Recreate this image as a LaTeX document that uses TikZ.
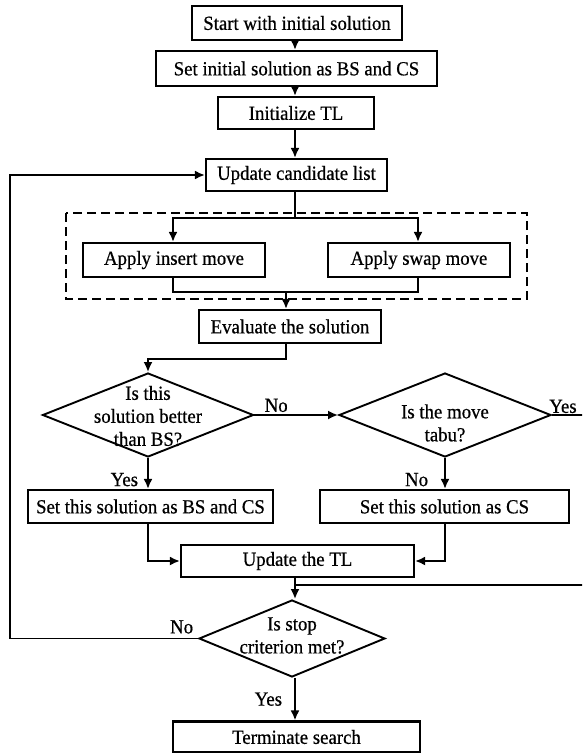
\documentclass[tikz,border=0pt]{standalone}
\usepackage{fontspec}
\setmainfont{Liberation Serif}[FakeStretch=0.94, FakeBold=0.6]
\usepackage{tikz}
\usetikzlibrary{arrows}
\usetikzlibrary{arrows.meta}
\usetikzlibrary{calc}
\usetikzlibrary{positioning}
\usetikzlibrary{shapes.geometric}

\begin{document}
\begin{tikzpicture}[x=1pt, y=-1pt,
    font=\fontsize{20}{23}\selectfont,
    box/.style={draw, line width=2.2pt, minimum height=33pt, inner sep=0pt},
    decision/.style={draw, diamond, line width=1.9pt, inner sep=0pt},
    line/.style={line width=1.9pt},
    flow/.style={line, -{Latex[length=10pt, width=9pt]}}]

    \useasboundingbox (0,0) rectangle (582,753);
    \clip (0,0) rectangle (582,753);

    % boxes
    \node [box, minimum width=210pt, minimum height=34pt] (start) at (297,23) {Start with initial solution};
    \node [box, minimum width=281pt, minimum height=35pt] (init) at (296.5,68.5) {Set initial solution as BS and CS};
    \node [box, minimum width=156pt, minimum height=32pt] (inittl) at (296,113) {Initialize TL};
    \node [box, minimum width=181pt, minimum height=32pt] (cand) at (296.5,175) {Update candidate list};
    \node [box, minimum width=182pt, minimum height=34pt] (insert) at (174,260) {Apply insert move};
    \node [box, minimum width=182pt, minimum height=34pt] (swap) at (419,260) {Apply swap move};
    \node [box, minimum width=182pt] (eval) at (290,326.5) {Evaluate the solution};
    \node [box, minimum width=245pt] (setbc) at (150.5,506.5) {Set this solution as BS and CS};
    \node [box, minimum width=249pt] (setc) at (444.5,506.5) {Set this solution as CS};
    \node [box, minimum width=233pt, minimum height=32pt] (updtl) at (297.5,561) {Update the TL};
    \node [box, minimum width=247pt, minimum height=31pt] (term) at (296.5,737) {Terminate search};

    % decisions
    \node [decision, minimum width=211pt, minimum height=84pt,
      label={[align=center, yshift=-1pt]center:Is this\\solution better\\than BS?}] (better) at (148,415) {};
    \node [decision, minimum width=212pt, minimum height=84pt,
      label={[align=center, yshift=-8pt]center:Is the move\\tabu?}] (tabu) at (445,415) {};
    \node [decision, minimum width=186pt, minimum height=77pt,
      label={[align=center, yshift=3pt]center:Is stop\\criterion met?}] (stop) at (292,638.5) {};

    % neighbourhood group
    \draw [line, dashed, dash pattern=on 9pt off 5pt] (66,213) rectangle (527,299);

    \coordinate (split) at (295,218);
    \coordinate (join) at (286,292);
    \coordinate (rside) at (600,585);
    \coordinate (lside) at (10,0);

    % connectors
    \foreach \a/\b in {start/init, init/inittl, inittl/cand} {
      \draw [flow] (\a.south -| split) -- (\b.north -| split);
    }
    \draw [line] (cand.south -| split) -- (split);
    \draw [flow] (split) -| (insert.north -| 173,0);
    \draw [flow] (split) -| (swap.north -| 418,0);
    \draw [line] (insert.south -| 173,0) |- (join);
    \draw [line] (swap.south -| 418,0) |- (join);
    \draw [flow] (join) -- (join |- eval.north);
    \draw [flow] (eval.south -| join) -- ++(0,15) -| (better.north);

    \draw [flow] (better.east) -- node[pos=0.26, above, inner sep=2pt] {No} (tabu.west);
    \draw [line] (tabu.east) -- node[pos=0.23, above, inner sep=1pt] {Yes} (tabu.east -| rside) -- (rside);
    \draw [flow] (better.south) -- node[pos=0.7, left, inner sep=9pt] {Yes} (better.south |- setbc.north);
    \draw [flow] (tabu.south) -- node[pos=0.7, left, inner sep=16pt] {No} (tabu.south |- setc.north);
    \draw [flow] (better.south |- setbc.south) |- (updtl.west);
    \draw [flow] (tabu.south |- setc.south) |- (updtl.east);

    \draw [line] (rside) -- (rside -| 295,0);
    \draw [flow] (updtl.south -| 295,0) -- (stop.north -| 295,0);
    \draw [flow] (stop.west) -- node[pos=0, above left, inner sep=4pt] {No} (stop.west -| lside) |- (cand.west);
    \draw [flow] (stop.south -| 295,0) -- node[pos=0.5, left, inner sep=12pt] {Yes} (term.north -| 295,0);

\end{tikzpicture}
\end{document}
